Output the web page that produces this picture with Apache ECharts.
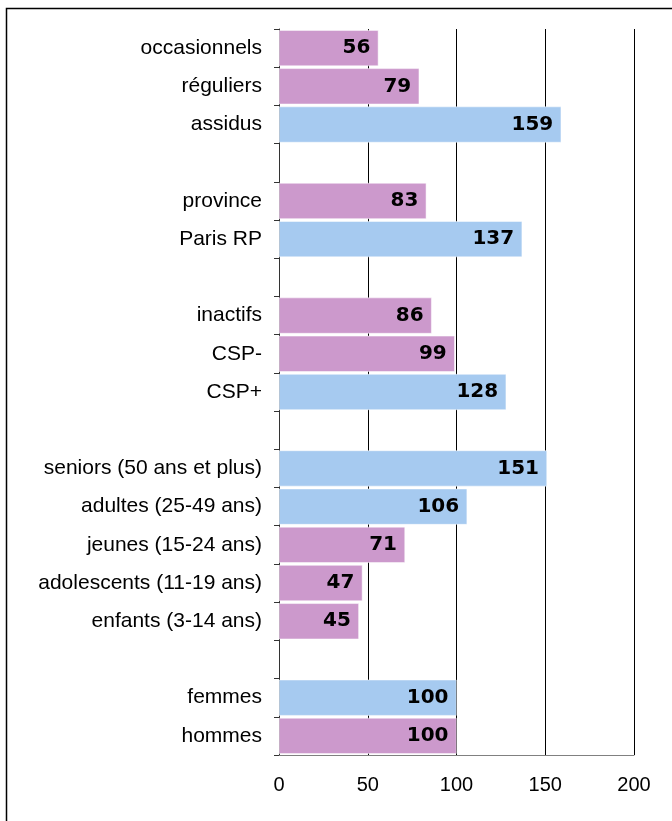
<!DOCTYPE html>
<html>
<head>
<meta charset="utf-8">
<script src="https://cdn.jsdelivr.net/npm/echarts@6/dist/echarts.min.js"></script>
<style>
  html, body { margin: 0; padding: 0; background: #fff; }
  #chart { width: 672px; height: 821px; }
</style>
</head>
<body>
<div id="chart"></div>
<script>
// catégories de haut en bas, '' = ligne vide entre les groupes
const categories = [
  'occasionnels', 'réguliers', 'assidus', '',
  'province', 'Paris RP', '',
  'inactifs', 'CSP-', 'CSP+', '',
  'seniors (50 ans et plus)', 'adultes (25-49 ans)', 'jeunes (15-24 ans)',
  'adolescents (11-19 ans)', 'enfants (3-14 ans)', '',
  'femmes', 'hommes'
]
const values = [56, 79, 159, null, 83, 137, null, 86, 99, 128, null, 151, 106, 71, 47, 45, null, 100, 100]
// barres mises en avant (bleu) ou non (rose)
const highlighted = [false, false, true, false, false, true, false, false, false, true, false, true, true, false, false, false, false, true, false]
const xTicks = [0, 50, 100, 150, 200]

const PINK = '#CC99CC'
const BLUE = '#A6CAF0'

const chart = echarts.init(document.getElementById('chart'))

const option = {
  animation: false,
  backgroundColor: '#fff',
  graphic: [
    {
      type: 'rect',
      shape: { x: 6.5, y: 8.5, width: 700, height: 850 },
      style: { fill: 'none', stroke: '#000', lineWidth: 1.5 },
      silent: true
    }
  ],
  grid: { left: 279, right: 38, top: 29, bottom: 66 },
  xAxis: {
    type: 'value',
    min: xTicks[0],
    max: xTicks[xTicks.length - 1],
    interval: 50,
    axisLine: { show: true, lineStyle: { color: '#808080', width: 1 } },
    axisTick: { show: false },
    axisLabel: {
      margin: 20,
      color: '#000',
      fontFamily: 'Liberation Sans',
      fontSize: 20
    },
    splitLine: { show: true, lineStyle: { color: '#000', width: 1 } }
  },
  yAxis: {
    type: 'category',
    inverse: true,
    data: categories,
    axisLine: { show: true, onZero: false, lineStyle: { color: '#333', width: 1 } },
    axisTick: { show: true, length: 5, lineStyle: { color: '#333' } },
    axisLabel: {
      margin: 17,
      color: '#000',
      fontFamily: 'Liberation Sans',
      fontSize: 21
    }
  },
  series: [
    {
      type: 'bar',
      barCategoryGap: '6%',
      z: 3,
      data: values.map((v, i) => ({
        value: v,
        itemStyle: { color: highlighted[i] ? BLUE : PINK, borderColor: '#fff', borderWidth: 0.5 }
      })),
      label: {
        show: true,
        position: 'insideRight',
        distance: 8,
        color: '#000',
        fontFamily: 'DejaVu Sans',
        fontWeight: 'bold',
        fontSize: 20,
        formatter: p => (p.value == null ? '' : p.value)
      }
    }
  ]
}

chart.setOption(option)
</script>
</body>
</html>
